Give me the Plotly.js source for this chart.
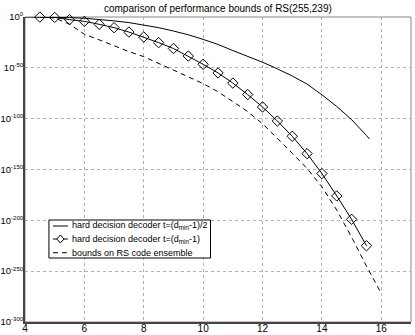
<!DOCTYPE html>
<html>
<head>
<meta charset="utf-8">
<script src="https://cdn.plot.ly/plotly-3.0.1.min.js"></script>
<style>
  body { margin: 0; background: #fff; }
  #plot { width: 415px; height: 335px; }
</style>
</head>
<body>
<div id="plot"></div>
<script>
// values, y given as log10 of the bound
var xHalf = [4, 4.5, 5, 5.5, 6, 6.5, 7, 7.5, 8, 8.5, 9, 9.5, 10, 10.5, 11, 11.5, 12, 12.5, 13, 13.5, 14, 14.5, 15, 15.5, 15.6];
var expHalf = [0, 0, -0.2, -0.6, -1.2, -2.3, -3.8, -5.5, -7.8, -10.5, -13.8, -17.5, -22, -27, -33, -38.5, -44.5, -51, -58, -66, -76.5, -88, -101, -116.5, -120];

var xFull = [4.5, 5, 5.5, 6, 6.5, 7, 7.5, 8, 8.5, 9, 9.5, 10, 10.5, 11, 11.5, 12, 12.5, 13, 13.5, 14, 14.5, 15, 15.5];
var expFull = [-0.1, -0.4, -2.6, -4.3, -7.2, -10.5, -14.8, -19.7, -25.2, -31, -38.4, -46.5, -55, -65, -76.3, -88.5, -102.3, -117.3, -134.4, -154, -176, -199, -225];

var xEns = [4.5, 5, 5.5, 6, 6.5, 7, 7.5, 8, 8.5, 9, 9.5, 10, 10.5, 11, 11.5, 12, 12.5, 13, 13.5, 14, 14.5, 15, 15.5, 16];
var expEns = [0, -1, -7, -17, -22.5, -28.5, -34, -39, -45.5, -52, -59, -65.5, -73.5, -83, -93, -105, -119, -134, -149, -167, -190, -216.5, -245, -272];

var yTickExp = [0, -50, -100, -150, -200, -250, -300];
var xTicks = [4, 6, 8, 10, 12, 14, 16];

var names = [
  "hard decision decoder t=(d<sub>min</sub>-1)/2",
  "hard decision decoder t=(d<sub>min</sub>-1)",
  "bounds on RS code ensemble"
];

function pow10(a) { return a.map(function (e) { return Math.pow(10, e); }); }

var trace1 = {
  x: xHalf, y: pow10(expHalf),
  mode: "lines", type: "scatter", name: names[0],
  line: { color: "#000", width: 1 }
};

var trace2 = {
  x: xFull, y: pow10(expFull),
  mode: "lines+markers", type: "scatter", name: names[1],
  line: { color: "#000", width: 1 },
  marker: { symbol: "diamond-open", size: 8, color: "#000", line: { width: 1 } },
  cliponaxis: false
};

var trace3 = {
  x: xEns, y: pow10(expEns),
  mode: "lines", type: "scatter", name: names[2],
  line: { color: "#000", width: 1, dash: "5px,4px" }
};

// legend box drawn by hand (paper coords of the plot area)
var lx0 = 0.062, lx1 = 0.4806, ly0 = 0.2098, ly1 = 0.3344;
var rowY = [0.3148, 0.2721, 0.2272];
var sx0 = 0.0724, sx1 = 0.1111, sxm = 0.0917, tx = 0.1163;
var dw = 0.0095, dh = 0.0131;

var shapes = [
  { type: "rect", xref: "paper", yref: "paper", x0: 0, x1: 1, y0: 0, y1: 1,
    line: { color: "#888", width: 1 }, layer: "below" },
  { type: "rect", xref: "paper", yref: "paper", x0: lx0, x1: lx1, y0: ly0, y1: ly1,
    fillcolor: "#fff", line: { color: "#000", width: 1 }, layer: "above" },
  { type: "line", xref: "paper", yref: "paper", x0: sx0, x1: sx1, y0: rowY[0], y1: rowY[0],
    line: { color: "#000", width: 1 } },
  { type: "line", xref: "paper", yref: "paper", x0: sx0, x1: sx1, y0: rowY[1], y1: rowY[1],
    line: { color: "#000", width: 1 } },
  { type: "path", xref: "paper", yref: "paper",
    path: "M" + (sxm - dw) + "," + rowY[1] + " L" + sxm + "," + (rowY[1] + dh) +
          " L" + (sxm + dw) + "," + rowY[1] + " L" + sxm + "," + (rowY[1] - dh) + " Z",
    fillcolor: "#fff", line: { color: "#000", width: 1 } },
  { type: "line", xref: "paper", yref: "paper", x0: sx0, x1: sx1, y0: rowY[2], y1: rowY[2],
    line: { color: "#000", width: 1, dash: "5px,4px" } }
];

var annotations = names.map(function (n, i) {
  return { xref: "paper", yref: "paper", x: tx, y: rowY[i], text: n,
    xanchor: "left", yanchor: "middle", showarrow: false, font: { size: 9 } };
});

var layout = {
  width: 415, height: 335,
  margin: { l: 25, r: 4, t: 17, b: 13 },
  font: { family: "Liberation Sans, Arial, sans-serif", size: 10, color: "#000" },
  paper_bgcolor: "#fff", plot_bgcolor: "#fff",
  title: { text: "comparison of performance bounds of RS(255,239)", x: 0.525, xanchor: "center", y: 0.985, yanchor: "top", font: { size: 10 } },
  showlegend: false,
  xaxis: {
    range: [4, 17], tickvals: xTicks, ticks: "", ticklabelstandoff: -4,
    showgrid: true, gridcolor: "#b0b0b0", griddash: "dot", gridwidth: 1,
    showline: true, linecolor: "#444", linewidth: 2, zeroline: false
  },
  yaxis: {
    type: "log", range: [-300, 0],
    tickvals: pow10(yTickExp),
    ticktext: yTickExp.map(function (e) {
      return "10<sup><span style='font-size:6px'>" + e + "</span></sup>";
    }),
    ticks: "", ticklabelstandoff: -2, tickfont: { size: 9.5 },
    showgrid: true, gridcolor: "#b0b0b0", griddash: "dot", gridwidth: 1,
    showline: true, linecolor: "#444", linewidth: 2, zeroline: false
  },
  shapes: shapes,
  annotations: annotations
};

Plotly.newPlot("plot", [trace1, trace2, trace3], layout, { displayModeBar: false });
</script>
</body>
</html>
